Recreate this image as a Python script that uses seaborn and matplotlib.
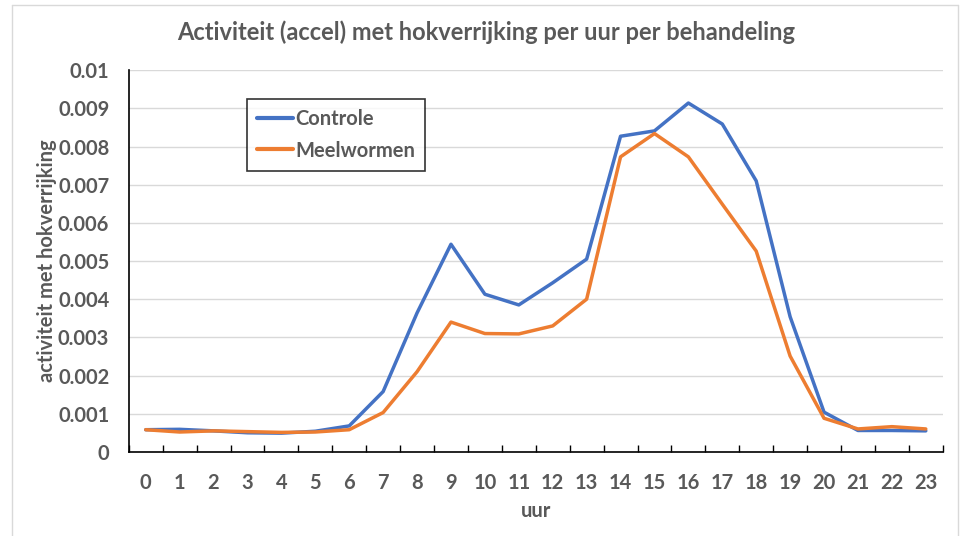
import matplotlib
matplotlib.use("Agg")
import matplotlib.pyplot as plt
import seaborn as sns
import pandas as pd
from matplotlib.lines import Line2D
from matplotlib.ticker import FixedLocator, FixedFormatter

hours = list(range(24))
controle = [0.00058, 0.00059, 0.00055, 0.00050, 0.00049, 0.00054, 0.00068, 0.00158,
            0.00364, 0.00544, 0.00413, 0.00385, 0.00443, 0.00505, 0.00827, 0.00841,
            0.00914, 0.00859, 0.00710, 0.00354, 0.00104, 0.00056, 0.00056, 0.00055]
meelwormen = [0.00058, 0.00052, 0.00055, 0.00053, 0.00051, 0.00052, 0.00058, 0.00103,
              0.00210, 0.00340, 0.00310, 0.00309, 0.00330, 0.00400, 0.00773, 0.00834,
              0.00773, 0.00649, 0.00526, 0.00251, 0.00088, 0.00060, 0.00066, 0.00060]
series_names = ["Controle", "Meelwormen"]
colors = ["#4472C4", "#ED7D31"]
y_ticks = [0, 0.001, 0.002, 0.003, 0.004, 0.005, 0.006, 0.007, 0.008, 0.009, 0.01]
y_tick_labels = ["0", "0.001", "0.002", "0.003", "0.004", "0.005", "0.006",
                 "0.007", "0.008", "0.009", "0.01"]

df = pd.DataFrame({
    "uur": hours * 2,
    "waarde": controle + meelwormen,
    "reeks": [series_names[0]] * 24 + [series_names[1]] * 24,
})

sns.set_theme(style="white")
plt.rcParams['font.family'] = ['Lato', 'DejaVu Sans']
text_color = "#595959"
fs = 14.5
lw = 2.5

fig = plt.figure(figsize=(9.61, 5.36), dpi=100)
ax = fig.add_axes([0.134, 0.157, 0.847, 0.712])

sns.lineplot(data=df, x="uur", y="waarde", hue="reeks", palette=colors,
             linewidth=lw, ax=ax, legend=False)

ax.set_xlim(-0.5, 23.5)
ax.set_ylim(0, 0.01)
ax.yaxis.set_major_locator(FixedLocator(y_ticks))
ax.yaxis.set_major_formatter(FixedFormatter(y_tick_labels))
ax.set_xticks(hours)
ax.set_xticklabels([str(h) for h in hours])
ax.set_xticks([h - 0.5 for h in hours] + [23.5], minor=True)
ax.tick_params(axis="x", which="major", length=0, pad=15, labelsize=fs,
               labelcolor=text_color)
ax.tick_params(axis="x", which="minor", direction="in", length=5, width=1,
               color="#000000", bottom=True)
ax.tick_params(axis="y", length=0, pad=14, labelsize=fs, labelcolor=text_color)
for lab in ax.get_xticklabels() + ax.get_yticklabels():
    lab.set_fontweight("bold")

ax.grid(axis="y", color="#D9D9D9", linewidth=1)
ax.set_axisbelow(True)
for s in ["top", "right"]:
    ax.spines[s].set_visible(False)
for s in ["left", "bottom"]:
    ax.spines[s].set_color("#000000")
    ax.spines[s].set_linewidth(1.2)

ax.set_xlabel("uur", fontsize=fs, fontweight="bold", color=text_color, labelpad=6)
ax.set_ylabel("activiteit met hokverrijking", fontsize=fs, fontweight="bold",
              color=text_color, labelpad=1)
fig.text(0.506, 0.94, "Activiteit (accel) met hokverrijking per uur per behandeling",
         ha="center", va="center", fontsize=17, fontweight="bold", color=text_color)

handles = [Line2D([0], [0], color=c, linewidth=lw + 0.5) for c in colors]
leg = ax.legend(handles, series_names, loc="upper left", bbox_to_anchor=(0.133, 0.95),
                frameon=True, fancybox=False, edgecolor="#000000", handlelength=1.8,
                handletextpad=0.1, labelspacing=0.55, borderpad=0.5,
                prop={"weight": "bold", "size": fs})
leg.get_frame().set_linewidth(1.2)
for t in leg.get_texts():
    t.set_color(text_color)

# outer frame of the screenshot
fig.add_artist(Line2D([0.0125, 0.0125], [0, 0.99], color="#D9D9D9", linewidth=1,
                      transform=fig.transFigure))
fig.add_artist(Line2D([0.0125, 0.997], [0.99, 0.99], color="#D9D9D9", linewidth=1,
                      transform=fig.transFigure))
fig.add_artist(Line2D([0.997, 0.997], [0, 0.99], color="#D9D9D9", linewidth=1,
                      transform=fig.transFigure))

fig.savefig("out.png", dpi=100)
